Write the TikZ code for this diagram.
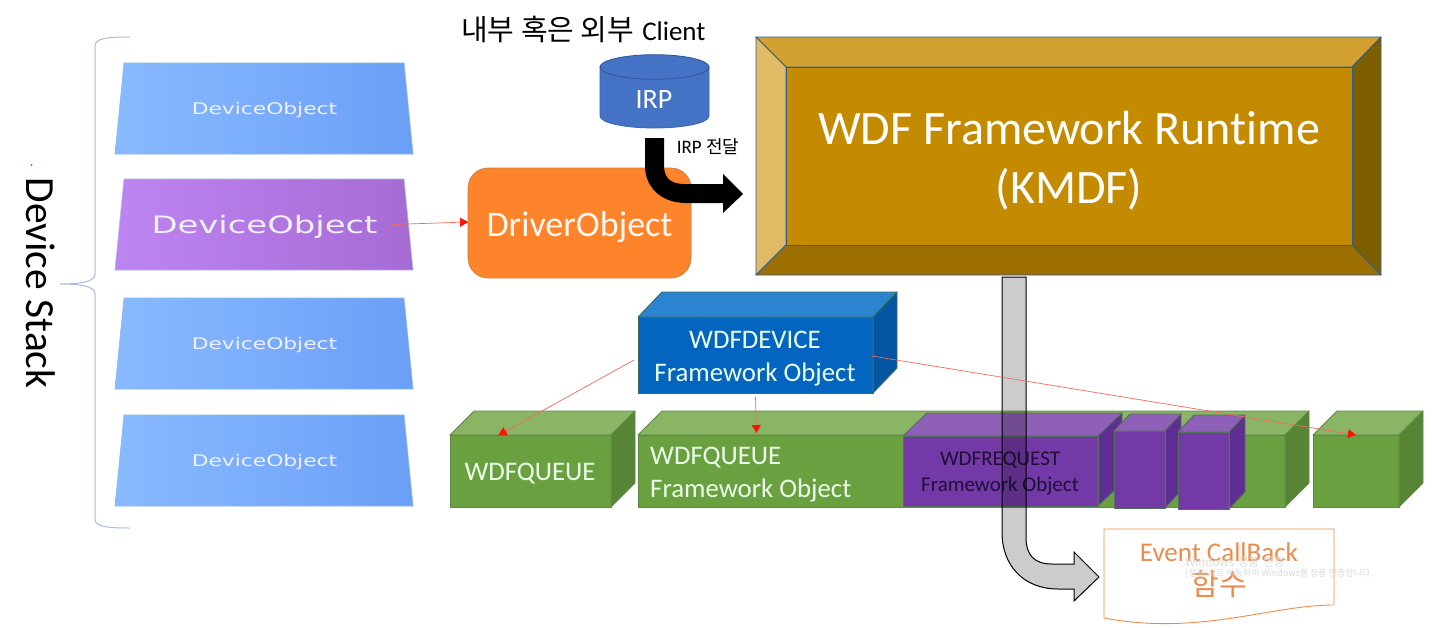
\documentclass[tikz,border=0pt]{standalone}
\usepackage{fontspec}
\setmainfont{Carlito}[Ligatures=NoCommon]
\newfontfamily\krf{Noto Sans CJK KR}
\newfontfamily\djv{DejaVu Sans}
\usetikzlibrary{fit,arrows.meta}
\definecolor{blueF}{HTML}{0365C0}\definecolor{blueT}{HTML}{2B84D0}\definecolor{blueR}{HTML}{0455A2}
\definecolor{greenF}{HTML}{6AA040}\definecolor{greenT}{HTML}{8AB565}\definecolor{greenR}{HTML}{578535}
\definecolor{purpF}{HTML}{733AA7}\definecolor{purpT}{HTML}{8F60B8}\definecolor{purpR}{HTML}{5F2E92}
\definecolor{bevelE}{HTML}{2F5F8F}
\definecolor{redline}{HTML}{F26A5E}
\definecolor{orangeT}{HTML}{ED8B4C}
\definecolor{devBlueL}{HTML}{89BAFF}\definecolor{devBlueR}{HTML}{6A9FF6}\definecolor{devBlueE}{HTML}{8DB4EA}
\definecolor{devPurpL}{HTML}{BE84F2}\definecolor{devPurpR}{HTML}{A66BD3}\definecolor{devPurpE}{HTML}{A7B8E6}
\definecolor{braceC}{HTML}{A9BCE0}
\definecolor{driverF}{HTML}{FD842B}\definecolor{driverE}{HTML}{C9803F}
\definecolor{irpF}{HTML}{4472C4}\definecolor{irpE}{HTML}{3A66B0}\definecolor{irpT}{HTML}{2F5597}
\definecolor{bevT}{HTML}{D2A02E}\definecolor{bevL}{HTML}{E0BA64}\definecolor{bevR}{HTML}{7F5E00}\definecolor{bevB}{HTML}{9D6F00}\definecolor{bevC}{HTML}{C48A00}
\definecolor{edgeBlue}{HTML}{3D6B5C}\definecolor{edgeGreen}{HTML}{5E8A45}\definecolor{edgePurp}{HTML}{55705A}
\definecolor{reqText}{HTML}{1D0F36}
\newcommand\fs[2]{\fontsize{#1}{#2}\selectfont}
\tikzset{
  cubeedge/.style={draw=#1,line width=0.9pt,line join=round},
  redarrow/.style={draw=redline,line width=0.7pt,-{Triangle[length=8pt,width=9pt,fill=red!85!orange,color=red!85!orange]}},
  facenode/.style={inner sep=0pt,outer sep=0pt},
  whitetext/.style={text=white!92!green,align=center,inner sep=0pt,font=\fs{26.8}{33}},
  trapedge/.style={draw=#1,line width=0.6pt},
  bevel/.style={fill=#1,draw=bevelE,line width=0.9pt,line join=round}
}
% x1 y1 x2 y2 dx dy colourprefix edge name
\newcommand\cubebox[9]{%
  \fill[#7F] (#1,#2) rectangle (#3,#4);
  \path[cubeedge=#8,fill=#7T] (#1,#2) -- ++(#5,-#6) -- (#3+#5,#2-#6) -- (#3,#2) -- cycle;
  \path[cubeedge=#8,fill=#7R] (#3,#2) -- (#3+#5,#2-#6) -- (#3+#5,#4-#6) -- (#3,#4) -- cycle;
  \draw[cubeedge=#8] (#1,#2) rectangle (#3,#4);
  \node[facenode,fit={(#1,#2)(#3,#4)}] (#9) {};
}
% y1 y2 leftcolour rightcolour edge textsize xstretch name
\newcommand\devshape[8]{%
  \path[left color=#3,right color=#4,trapedge=#5] (124,#1) -- (404,#1) -- (413,#2) -- (115,#2) -- cycle;
  \node[text=white!94!blue,inner sep=0pt] (#8) at (264.5,{(#1+#2)/2+2}) {\scalebox{#7}[1]{\djv\fs{#6}{#6}DeviceObject}};
}
\begin{document}
\begin{tikzpicture}[x=1pt,y=-1pt]
\useasboundingbox[fill=white] (0,0) rectangle (1432,627);

% device stack
\devshape{63}{154}{devBlueL}{devBlueR}{devBlueE}{16}{1.36}{dev1}
\devshape{179}{270}{devPurpL}{devPurpR}{devPurpE}{24}{1.41}{dev2}
\devshape{298}{389}{devBlueL}{devBlueR}{devBlueE}{16}{1.36}{dev3}
\devshape{415}{506}{devBlueL}{devBlueR}{devBlueE}{16}{1.36}{dev4}
\draw[draw=braceC,line width=1pt] (130,37) .. controls (108,37) and (95,38) .. (95,46) -- (95,274)
  .. controls (95,282) and (80,284) .. (60,284) .. controls (80,284) and (95,286) .. (95,294) -- (95,519)
  .. controls (95,527) and (108,528) .. (130,528);
\node[rotate=-90,inner sep=0pt] (stacklabel) at (41,283) {\fs{41.5}{41.5}Device Stack};
\fill[red!70] (31.5,165) circle (1.2);

% driver object
\node[facenode,fill=driverF,draw=driverE,line width=0.7pt,rounded corners=20pt,minimum width=223pt,minimum height=110pt] (driver) at (579.5,223) {};
\node[inner sep=0pt,text=white!95!orange] (drivertext) at (579.5,227) {\fs{36}{36}DriverObject};

% title and IRP
\node[inner sep=0pt,anchor=base west] (title) at (461,40) {{\krf\fs{29}{29}내부 혹은 외부}\hspace{8pt}{\fs{27}{27}Client}};
\path[fill=irpF,draw=irpE,line width=0.8pt] (600,67) -- (600,116) .. controls (600,123) and (625,128) .. (654.5,128) .. controls (684,128) and (709,123) .. (709,116) -- (709,67) -- cycle;
\path[fill=irpF,draw=irpT,line width=0.8pt] (654.5,67) ellipse [x radius=54.5,y radius=12.3];
\node[text=white,inner sep=0pt] (irp) at (654,100) {\fs{28}{28}IRP};
\node[inner sep=0pt] (irpnote) at (708,147) {\fs{19}{19}IRP {\krf\fs{18}{18}전달}};

% black bent arrow
\fill[black] (645,138) -- (664,138) -- (664,166) .. controls (664,178) and (671,184) .. (684,184) -- (723,184) -- (723,174) -- (743,194) -- (723,213) -- (723,203) -- (686,203) .. controls (660,203) and (645,186) .. (645,166) -- cycle;

% WDF bevel
\path[bevel=bevT] (756,37) -- (1381,37) -- (1352,67) -- (786,67) -- cycle;
\path[bevel=bevL] (756,37) -- (786,67) -- (786,245) -- (756,275) -- cycle;
\path[bevel=bevR] (1381,37) -- (1381,275) -- (1352,245) -- (1352,67) -- cycle;
\path[bevel=bevB] (756,275) -- (786,245) -- (1352,245) -- (1381,275) -- cycle;
\node[facenode,fill=bevC,draw=bevelE,line width=0.9pt,minimum width=566pt,minimum height=178pt] (wdf) at (1069,156) {};
\node[text=white,align=center,inner sep=0pt,font=\fs{48}{59}] (wdftext) at (1069,160.5) {WDF Framework Runtime\\(KMDF)};

% framework objects
\cubebox{638}{317}{873}{393}{24}{25}{blue}{edgeBlue}{wdfdev}
\node[whitetext] (wdfdevtext) at (755,359) {WDFDEVICE\\Framework Object};
\cubebox{450}{435}{611}{507}{24}{24}{green}{edgeGreen}{queuea}
\node[whitetext] (queueatext) at (530,474) {WDFQUEUE};
\cubebox{638}{435}{1285}{507}{24}{24}{green}{edgeGreen}{queueb}
\node[whitetext,align=left,anchor=west] (queuebtext) at (650,475) {WDFQUEUE\\Framework Object};
\cubebox{903}{436}{1098}{506}{24}{23}{purp}{edgePurp}{reqa}
\node[text=reqText,align=center,inner sep=0pt,font=\fs{21}{26}] (reqatext) at (1000,473) {WDFREQUEST\\Framework Object};
\cubebox{1114}{431}{1165}{508}{16}{17}{purp}{edgePurp}{reqb}
\cubebox{1178}{432}{1229}{509}{16}{17}{purp}{edgePurp}{reqc}
\cubebox{1313}{435}{1399}{507}{24}{24}{green}{edgeGreen}{queuec}

% event callback
\path[draw=orangeT,line width=0.9pt,fill=white] (1104,529) -- (1334,529) -- (1334,605) .. controls (1270,605) and (1200,636) .. (1104,618) -- cycle;
\node[text=orangeT,inner sep=0pt] (eventtext) at (1219,552) {\fs{27}{27}Event CallBack};
\node[text=orangeT,inner sep=0pt] (eventkr) at (1219,584) {\krf\fs{30}{30}함수};
\node[text=black!14,inner sep=0pt,anchor=west] (wma) at (1185,562) {\krf\fs{11.5}{11.5}Windows\hspace{4pt}정품\hspace{4pt}인증};
\node[text=black!14,inner sep=0pt,anchor=west] (wmb) at (1185,573.5) {\krf\fs{9}{9}[설정]으로 이동하여 Windows를 정품 인증합니다.};

% gray bent arrow
\path[fill=black,fill opacity=0.2,draw=black,line width=1pt,line join=miter] (1002,277) -- (1026,277) -- (1026,537) .. controls (1026,555) and (1034,564) .. (1052,564) -- (1074,564) -- (1074,552) -- (1099,577) -- (1074,601) -- (1074,589) -- (1058,589) .. controls (1024,589) and (1002,566) .. (1002,532) -- cycle;

% connectors
\draw[redarrow] ([shift={(14,-2)}]dev2.east) -- ([yshift=1pt]driver.west);
\draw[redarrow] ([shift={(-4,5)}]wdfdev.west) -- ([xshift=-32]queuea.north);
\draw[redarrow] ([shift={(0,4)}]wdfdev.south) -- ([shift={(1,-2)}]wdfdev.south |- queueb.north);
\draw[redarrow] ([shift={(-1,1)}]wdfdev.east) -- (queuec.north);
\end{tikzpicture}
\end{document}
